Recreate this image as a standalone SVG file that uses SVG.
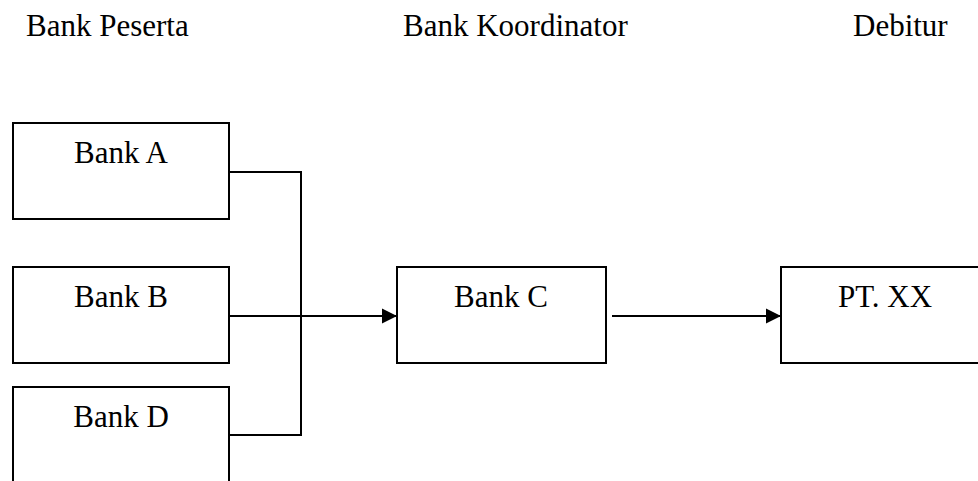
<svg xmlns="http://www.w3.org/2000/svg" width="978" height="481" viewBox="0 0 978 481">
<style>
.box{fill:#fff;stroke:#000;stroke-width:2}
.t{font-family:"Liberation Serif","Times New Roman",serif;font-size:31px;fill:#000}
.c{text-anchor:middle}
.ln{fill:none;stroke:#000;stroke-width:2}
</style>
<defs>
<marker id="ah" markerUnits="userSpaceOnUse" markerWidth="16" markerHeight="16" refX="15" refY="8" orient="auto">
<path d="M0,0.5 L15,8 L0,15.5 Z" fill="#000"/>
</marker>
</defs>
<rect width="978" height="481" fill="#fff"/>
<g id="headers">
<text class="t" x="26" y="36">Bank Peserta</text>
<text class="t" x="403" y="36">Bank Koordinator</text>
<text class="t" x="853" y="36">Debitur</text>
</g>
<g id="connectors">
<polyline class="ln" points="229,172 301,172 301,435 229,435"/>
<line class="ln" x1="229" y1="316" x2="397" y2="316" marker-end="url(#ah)"/>
<line class="ln" x1="612" y1="316" x2="781" y2="316" marker-end="url(#ah)"/>
</g>
<g id="bankA">
<rect class="box" x="13" y="123" width="216" height="96"/>
<text class="t c" x="121" y="163">Bank A</text>
</g>
<g id="bankB">
<rect class="box" x="13" y="267" width="216" height="96"/>
<text class="t c" x="121" y="307">Bank B</text>
</g>
<g id="bankD">
<rect class="box" x="13" y="387" width="216" height="110"/>
<text class="t c" x="121" y="427">Bank D</text>
</g>
<g id="bankC">
<rect class="box" x="397" y="267" width="209" height="96"/>
<text class="t c" x="501" y="307">Bank C</text>
</g>
<g id="ptxx">
<rect class="box" x="781" y="267" width="210" height="96"/>
<text class="t c" x="885" y="307">PT. XX</text>
</g>
</svg>
